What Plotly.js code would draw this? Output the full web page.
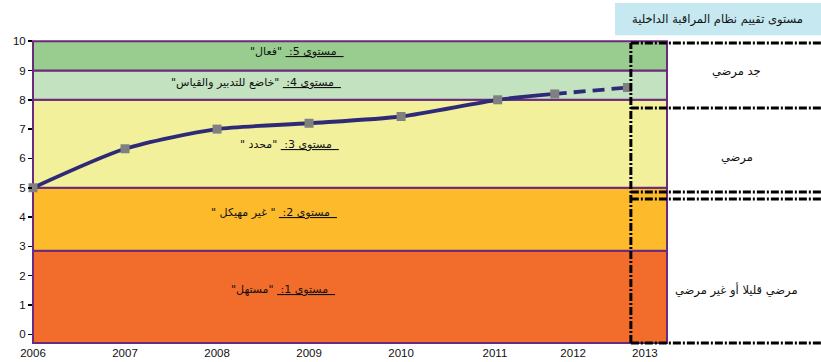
<!DOCTYPE html>
<html><head><meta charset="utf-8">
<script src="https://cdn.plot.ly/plotly-3.0.1.min.js"></script>
<style>html,body{margin:0;padding:0;background:#fff}#chart{width:821px;height:362px}</style>
</head><body><div id="chart"></div>
<script>
// ---- data ----
const pointX = [2006, 2007, 2008, 2009, 2010, 2011.05, 2011.67, 2012.46];
const pointY = [5.0, 6.33, 7.0, 7.2, 7.43, 8.0, 8.2, 8.42];
const solidCount = 7;            // solid line through first 7 points, dashed to last
const tickPos = [2006, 2007, 2008, 2009, 2010, 2011.02, 2011.87, 2012.65];
const tickText = ['2006','2007','2008','2009','2010','2011','2012','2013'];
const bandEdges = [-0.3, 2.85, 5, 8, 9, 10];
const bandColors = ['#f26c2b', '#fdbb2b', '#f3f09b', '#c3e3c0', '#98cd8f'];
const levelNames = ['مستوى 1:', 'مستوى 2:', 'مستوى 3:', 'مستوى 4:', 'مستوى 5:'];
const levelDesc = ['"مستهل"', '" غير مهيكل "', '"محدد "', '"خاضع للتدبير والقياس"', '"فعال"'];
const headerText = 'مستوى تقييم نظام المراقبة الداخلية';
const ratingText = ['جد مرضي', 'مرضي', 'مرضي قليلا أو غير مرضي'];

// ---- layout helpers (positions, not data) ----
const purple = '#6b2b7d';
const levelLabelPos = [[0.394, 0.178], [0.380, 0.434], [0.404, 0.655], [0.352, 0.859], [0.416, 0.961]];
const ratingPos = [0.895, 0.615, 0.178];
const arFont = 'DejaVu Sans, Liberation Sans, sans-serif';
const RLE = '\u202B', PDF = '\u202C';

const shapes = [];
for (let i = 0; i < bandColors.length; i++) {
  shapes.push({type: 'rect', layer: 'below', xref: 'paper', yref: 'y',
    x0: 0, x1: 1, y0: bandEdges[i], y1: bandEdges[i + 1],
    fillcolor: bandColors[i], line: {color: purple, width: 2}});
}
const dd = {color: '#000', width: 3, dash: '8px,2px,2px,2px'};
const vx = 0.943, rx = 1.243;
shapes.push({type: 'line', xref: 'paper', yref: 'paper', x0: vx, x1: vx, y0: 0.003, y1: 0.990, line: dd});
[0.990, 0.776, 0.500, 0.477, 0.003].forEach(y => {
  shapes.push({type: 'line', xref: 'paper', yref: 'paper', x0: vx, x1: rx, y0: y, y1: y, line: dd});
});
shapes.push({type: 'rect', layer: 'below', xref: 'paper', yref: 'paper', x0: 0.918, x1: 1.243, y0: 1.016, y1: 1.122,
  fillcolor: '#c5e8f1', line: {width: 0}});

const annotations = [];
for (let i = 0; i < levelNames.length; i++) {
  annotations.push({xref: 'paper', yref: 'paper', x: levelLabelPos[i][0], y: levelLabelPos[i][1],
    xanchor: 'center', yanchor: 'middle',
    text: '<span style="text-decoration:underline">' + RLE + '\u00a0\u00a0' + levelNames[i] + '\u00a0</span> ' + levelDesc[i] + PDF,
    showarrow: false, font: {family: arFont, size: 11, color: '#111'}});
}
annotations.push({xref: 'paper', yref: 'paper', x: 1.080, y: 1.069, xanchor: 'center', yanchor: 'middle',
  text: headerText, showarrow: false, font: {family: arFont, size: 11.5, color: '#111'}});
ratingText.forEach((t, i) => annotations.push({xref: 'paper', yref: 'paper', x: 1.110, y: ratingPos[i],
  xanchor: 'center', yanchor: 'middle',
  text: t, showarrow: false, font: {family: arFont, size: 11.5, color: '#111'}}));

const traces = [
  {x: pointX.slice(0, solidCount), y: pointY.slice(0, solidCount), type: 'scatter', mode: 'lines',
   line: {color: '#2f2a78', width: 3.8, shape: 'spline', smoothing: 0.7}, hoverinfo: 'skip', cliponaxis: false},
  {x: pointX.slice(solidCount - 1), y: pointY.slice(solidCount - 1), type: 'scatter', mode: 'lines',
   line: {color: '#2f2a78', width: 3.8, dash: '12px,7px'}, hoverinfo: 'skip', cliponaxis: false},
  {x: pointX, y: pointY, type: 'scatter', mode: 'markers', cliponaxis: false,
   marker: {symbol: 'square', size: 9, color: '#808080'}}
];

const layout = {
  width: 821, height: 362, showlegend: false,
  margin: {l: 33, r: 154, t: 40, b: 18},
  paper_bgcolor: '#fff', plot_bgcolor: 'rgba(0,0,0,0)',
  font: {family: 'Liberation Sans, sans-serif', size: 11.5, color: '#111'},
  xaxis: {range: [2006, 2012.89], tickvals: tickPos, ticktext: tickText, showgrid: false,
    zeroline: false, showline: false, ticks: '', tickfont: {size: 11.5}},
  yaxis: {range: [-0.33, 10.04], tickvals: [0,1,2,3,4,5,6,7,8,9,10], showgrid: false, zeroline: false,
    showline: false, ticks: 'outside', ticklen: 4, tickwidth: 1.5, tickcolor: '#000', tickfont: {size: 11.5}},
  shapes: shapes, annotations: annotations
};
Plotly.newPlot('chart', traces, layout, {staticPlot: true});
</script></body></html>
